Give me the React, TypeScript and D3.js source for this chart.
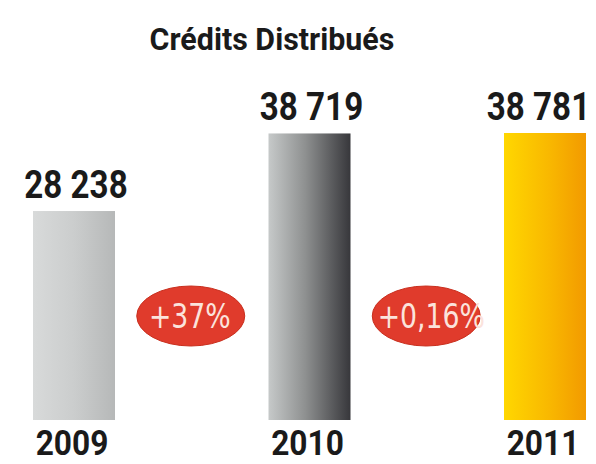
import React from "react";
import * as d3 from "d3";

const years = ["2009", "2010", "2011"];
const values = [28238, 38719, 38781];
const valueLabels = ["28 238", "38 719", "38 781"];
const changeLabels = ["+37%", "+0,16%"];
const title = "Crédits Distribués";

const W = 596;
const H = 464;
const FONT = "Roboto, 'DejaVu Sans Condensed', sans-serif";
const FONT_LIGHT = "'DejaVu Sans Condensed', 'DejaVu Sans', sans-serif";

const gradients = [
  { id: "g2009", stops: [["0%", "#d8dada"], ["50%", "#cbcdcd"], ["100%", "#b6b8b8"]] },
  { id: "g2010", stops: [["0%", "#c6c9c9"], ["45%", "#8e9090"], ["100%", "#37373b"]] },
  { id: "g2011", stops: [["0%", "#ffd700"], ["55%", "#f9b800"], ["100%", "#f29a00"]] },
];

export default function App() {
  const x = d3.scalePoint<string>().domain(years).range([74, 545]);
  const y = d3.scaleLinear().domain([0, d3.max(values) as number]).range([420, 133]);
  const barW = 82;
  const labelW = 103;
  const sx = 0.85;

  return (
    <svg
      width={W}
      height={H}
      viewBox={`0 0 ${W} ${H}`}
      style={{ position: "fixed", left: 0, top: 0, background: "#fff" }}
    >
      <defs>
        {gradients.map((g) => (
          <linearGradient key={g.id} id={g.id} x1="0" x2="1" y1="0" y2="0">
            {g.stops.map(([o, c]) => (
              <stop key={o} offset={o} stopColor={c} />
            ))}
          </linearGradient>
        ))}
      </defs>
      <rect x={0} y={0} width={W} height={H} fill="#fff" />

      <text
        transform={`translate(272,50) scale(0.95,1)`}
        textAnchor="middle"
        fontFamily={FONT}
        fontWeight={700}
        fontSize={32}
        fill="#1a1a1a"
      >
        {title}
      </text>

      {years.map((yr, i) => {
        const cx = x(yr) as number;
        const lx = Math.min(cx + 2, W - 6 - labelW / 2);
        return (
          <g key={yr}>
            <rect
              x={cx - barW / 2}
              y={y(values[i])}
              width={barW}
              height={y(0) - y(values[i])}
              fill={`url(#${gradients[i].id})`}
            />
            <text
              transform={`translate(${lx},${y(values[i]) - 13}) scale(${sx},1)`}
              textAnchor="middle"
              fontFamily={FONT}
              fontWeight={700}
              fontSize={39}
              fill="#1a1a1a"
            >
              {valueLabels[i]}
            </text>
            <text
              transform={`translate(${cx - 2},455) scale(0.88,1)`}
              textAnchor="middle"
              fontFamily={FONT}
              fontWeight={700}
              fontSize={36}
              fill="#1a1a1a"
            >
              {yr}
            </text>
          </g>
        );
      })}

      {changeLabels.map((lab, i) => {
        const cx = ((x(years[i]) as number) + (x(years[i + 1]) as number)) / 2;
        const cy = 316;
        return (
          <g key={lab}>
            <ellipse cx={cx - 1} cy={cy} rx={54} ry={30} fill="#e03b2c" stroke="#c9301f" strokeWidth={1} />
            <text
              transform={`translate(${i === 0 ? cx - 2 : cx + 4},${cy + 12}) scale(0.9,1)`}
              textAnchor="middle"
              fontFamily={FONT_LIGHT}
              fontSize={33}
              fill="#fbe3dc"
            >
              {lab}
            </text>
          </g>
        );
      })}
    </svg>
  );
}
